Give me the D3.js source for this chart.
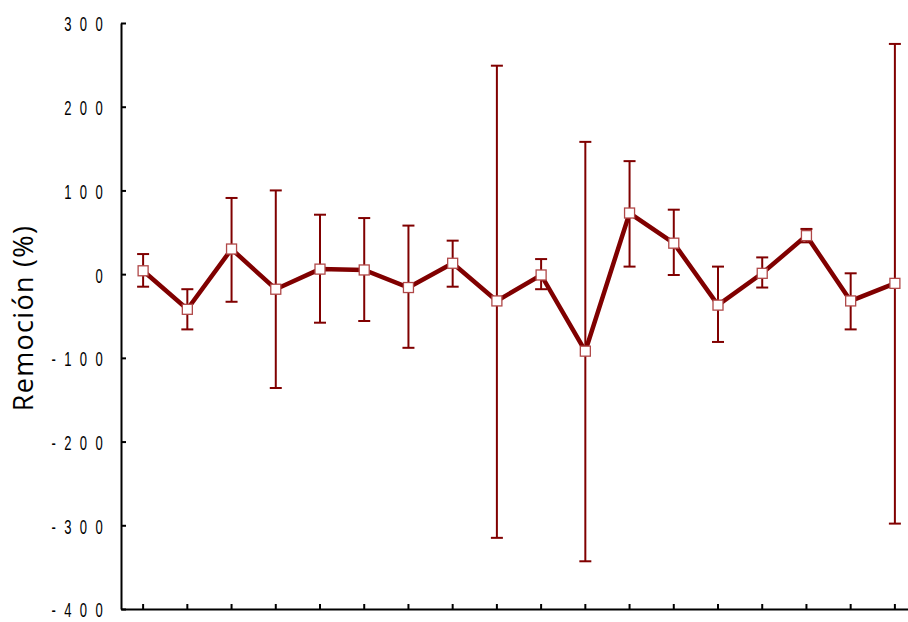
<!DOCTYPE html>
<html>
<head>
<meta charset="utf-8">
<script src="https://cdn.jsdelivr.net/npm/d3@7"></script>
<style>
  body { margin: 0; background: #fff; }
  .axis path, .axis line { stroke: #000; stroke-width: 2px; }
  .axis text { font-family: "Liberation Sans", Arial, sans-serif; font-size: 21px; letter-spacing: 13.5px; fill: #000; }
</style>
</head>
<body>
<svg width="908" height="622"></svg>
<script>
// 18 sampling points, no labels on the x axis
var categories = d3.range(1, 19);
var values = [4, -42, 30, -18, 6, 5, -16, 13, -32, -1, -92, 73, 37, -37, 1, 46, -32, -11];
var upper  = [24, -18, 91, 100, 71, 67, 58, 40, 249, 18, 158, 135, 77, 9, 20, 54, 1, 275];
var lower  = [-15, -66, -33, -136, -58, -56, -88, -15, -315, -18, -343, 9, -1, -81, -16, 38, -66, -298];
var yTicks = [-400, -300, -200, -100, 0, 100, 200, 300];

var svg = d3.select("svg"),
    margin = {top: 23, right: -9, bottom: 13, left: 121},
    width = +svg.attr("width") - margin.left - margin.right,
    height = +svg.attr("height") - margin.top - margin.bottom;

var x = d3.scaleBand().domain(categories).range([0, width]),
    y = d3.scaleLinear().domain([-400, 300]).range([height, 0]);

var colour = "#800000";

var g = svg.append("g")
    .attr("transform", "translate(" + margin.left + "," + margin.top + ")");

g.append("g")
    .attr("class", "axis axis--x")
    .attr("transform", "translate(0," + height + ")")
    .call(d3.axisBottom(x).tickSize(-5).tickSizeOuter(0).tickFormat(""));

var yAxis = g.append("g")
    .attr("class", "axis axis--y")
    .call(d3.axisLeft(y).tickValues(yTicks).tickSize(-5).tickSizeOuter(0)
      .tickFormat(function(d) { return String(d); }));

// narrow, widely spaced digits like the original
yAxis.selectAll(".tick text")
    .attr("x", 0)
    .attr("dy", "0.38em")
    .attr("transform", "translate(-10,0) scale(0.62,1)");

svg.append("text")
    .attr("transform", "translate(33,318) rotate(-90)")
    .attr("text-anchor", "middle")
    .style("font-family", "'Open Sans', 'Noto Sans', sans-serif")
    .style("font-size", "27px")
    .style("letter-spacing", "1.3px")
    .text("Remoción (%)");

var cx = function(i) { return x(categories[i]) + x.bandwidth() / 2; };

// error bars
var err = g.selectAll(".err")
    .data(values)
  .enter().append("g")
    .attr("class", "err")
    .attr("stroke", colour)
    .attr("stroke-width", 2);

err.append("line")
    .attr("x1", function(d, i) { return cx(i); })
    .attr("x2", function(d, i) { return cx(i); })
    .attr("y1", function(d, i) { return y(upper[i]); })
    .attr("y2", function(d, i) { return y(lower[i]); });

err.append("line")
    .attr("x1", function(d, i) { return cx(i) - 6; })
    .attr("x2", function(d, i) { return cx(i) + 6; })
    .attr("y1", function(d, i) { return y(upper[i]); })
    .attr("y2", function(d, i) { return y(upper[i]); });

err.append("line")
    .attr("x1", function(d, i) { return cx(i) - 6; })
    .attr("x2", function(d, i) { return cx(i) + 6; })
    .attr("y1", function(d, i) { return y(lower[i]); })
    .attr("y2", function(d, i) { return y(lower[i]); });

var line = d3.line()
    .x(function(d, i) { return cx(i); })
    .y(function(d) { return y(d); });

g.append("path")
    .datum(values)
    .attr("fill", "none")
    .attr("stroke", colour)
    .attr("stroke-width", 4.5)
    .attr("stroke-linejoin", "miter")
    .attr("d", line);

g.selectAll(".dot")
    .data(values)
  .enter().append("rect")
    .attr("class", "dot")
    .attr("x", function(d, i) { return cx(i) - 5; })
    .attr("y", function(d) { return y(d) - 5; })
    .attr("width", 10)
    .attr("height", 10)
    .attr("fill", "#fff")
    .attr("stroke", "#b04848")
    .attr("stroke-width", 1.3);
</script>
</body>
</html>
